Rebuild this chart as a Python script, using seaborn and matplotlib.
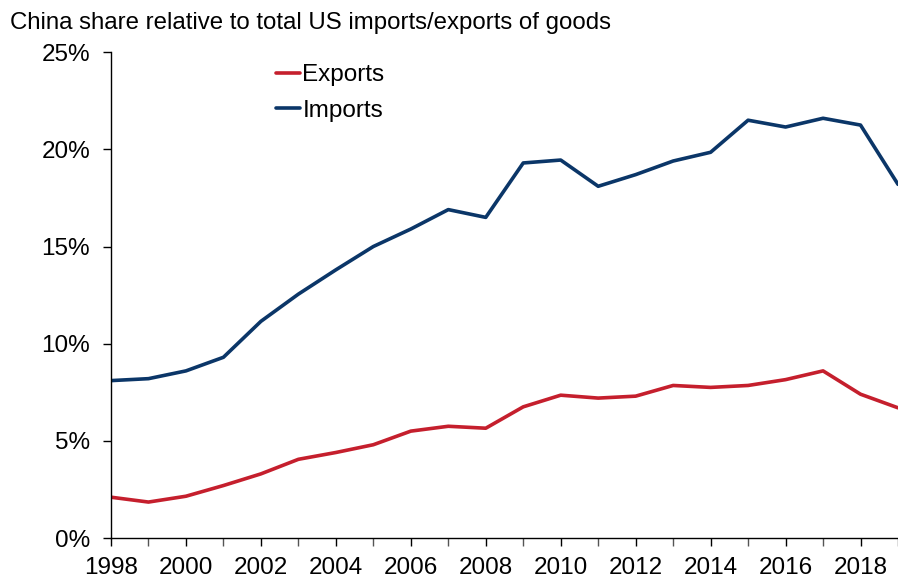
import numpy as np
import pandas as pd
import matplotlib
matplotlib.use("Agg")
import matplotlib.pyplot as plt
from matplotlib.ticker import MultipleLocator, FuncFormatter
import seaborn as sns

years = list(range(1998, 2020))
exports = [2.1, 1.85, 2.15, 2.7, 3.3, 4.05, 4.4, 4.8, 5.5, 5.75, 5.65, 6.75, 7.35, 7.2, 7.3, 7.85, 7.75, 7.85, 8.15, 8.6, 7.4, 6.7]
imports = [8.1, 8.2, 8.6, 9.3, 11.15, 12.55, 13.8, 15.0, 15.9, 16.9, 16.5, 19.3, 19.45, 18.1, 18.7, 19.4, 19.85, 21.5, 21.15, 21.6, 21.25, 18.2]

sns.set_theme(style="white")
plt.rcParams["font.family"] = ["Liberation Sans", "DejaVu Sans"]
plt.rcParams["text.color"] = "black"
plt.rcParams["xtick.color"] = "black"
plt.rcParams["ytick.color"] = "black"

df = pd.DataFrame({"year": years, "Exports": exports, "Imports": imports})
long = df.melt(id_vars="year", var_name="series", value_name="share")

fig = plt.figure(figsize=(8.98, 5.8), dpi=100)
ax = fig.add_axes([0.1236, 0.0724, 0.8764, 0.8376])

sns.lineplot(data=long, x="year", y="share", hue="series",
             palette={"Exports": "#C51F2D", "Imports": "#0B3668"},
             linewidth=2.6, ax=ax)

ax.set_xlim(1998, 2019)
ax.set_ylim(0, 25)
ax.xaxis.set_major_locator(MultipleLocator(2))
ax.xaxis.set_minor_locator(MultipleLocator(1))
ax.yaxis.set_major_locator(MultipleLocator(5))
ax.yaxis.set_major_formatter(FuncFormatter(lambda v, _: f"{v:.0f}%"))
ax.tick_params(axis="both", which="both", bottom=True, left=True,
               direction="out", length=6, width=1, colors="black", labelsize=17.5)
ax.tick_params(axis="x", which="minor", length=6, color="#555555")
ax.tick_params(axis="x", pad=8)
ax.tick_params(axis="y", pad=9)
ax.set_xlabel("")
ax.set_ylabel("")
sns.despine(ax=ax)
for s in ["left", "bottom"]:
    ax.spines[s].set_color("black")
    ax.spines[s].set_linewidth(1)

leg = ax.legend(loc="upper left", bbox_to_anchor=(0.197, 0.995), frameon=False,
                fontsize=17.5, handlelength=1.0, handletextpad=0.1,
                labelspacing=0.55, borderaxespad=0)

fig.text(0.011, 0.96, "China share relative to total US imports/exports of goods",
         fontsize=17.3, ha="left", va="center")

fig.savefig("out.png", dpi=100)
